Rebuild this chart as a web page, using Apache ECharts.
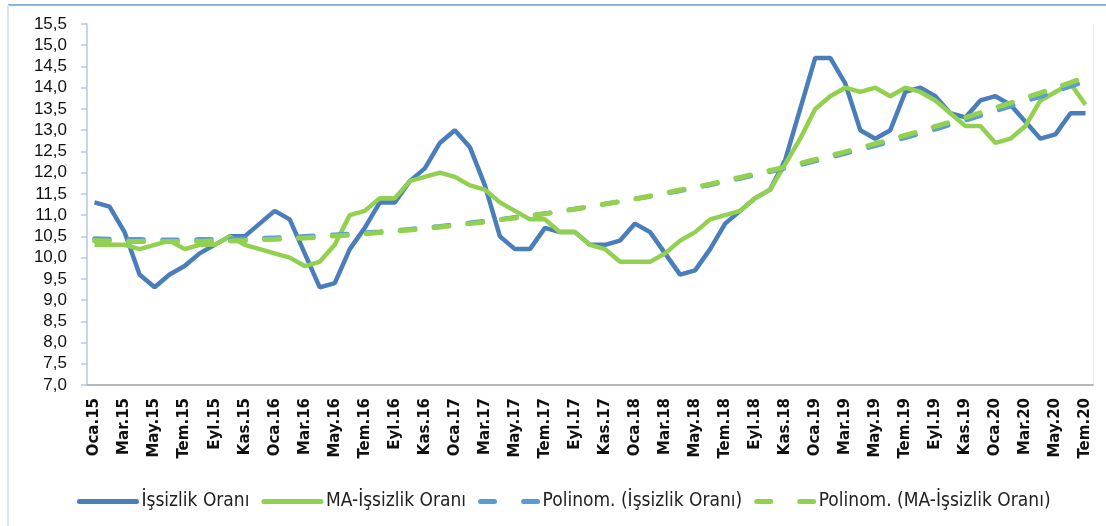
<!DOCTYPE html>
<html>
<head>
<meta charset="utf-8">
<script src="https://cdn.jsdelivr.net/npm/echarts@6/dist/echarts.min.js"></script>
<style>
  html, body { margin: 0; padding: 0; background: #fff; }
  #chart { width: 1106px; height: 526px; }
</style>
</head>
<body>
<div id="chart"></div>
<script>
// ay kısaltmaları ve yıllar (Oca.15 - Tem.20)
const months = ["Oca", "Şub", "Mar", "Nis", "May", "Haz", "Tem", "Ağu", "Eyl", "Eki", "Kas", "Ara"];
const years = ["15", "16", "17", "18", "19", "20"];
const lastMonthCount = 7;

const unemployment = [
  11.3, 11.2, 10.6, 9.6, 9.3, 9.6, 9.8, 10.1, 10.3, 10.5, 10.5, 10.8,
  11.1, 10.9, 10.1, 9.3, 9.4, 10.2, 10.7, 11.3, 11.3, 11.8, 12.1, 12.7,
  13.0, 12.6, 11.7, 10.5, 10.2, 10.2, 10.7, 10.6, 10.6, 10.3, 10.3, 10.4,
  10.8, 10.6, 10.1, 9.6, 9.7, 10.2, 10.8, 11.1, 11.4, 11.6, 12.3, 13.5,
  14.7, 14.7, 14.1, 13.0, 12.8, 13.0, 13.9, 14.0, 13.8, 13.4, 13.3, 13.7,
  13.8, 13.6, 13.2, 12.8, 12.9, 13.4, 13.4
];

const maUnemployment = [
  10.3, 10.3, 10.3, 10.2, 10.3, 10.4, 10.2, 10.3, 10.3, 10.5, 10.3, 10.2,
  10.1, 10.0, 9.8, 9.9, 10.3, 11.0, 11.1, 11.4, 11.4, 11.8, 11.9, 12.0,
  11.9, 11.7, 11.6, 11.3, 11.1, 10.9, 10.9, 10.6, 10.6, 10.3, 10.2, 9.9,
  9.9, 9.9, 10.1, 10.4, 10.6, 10.9, 11.0, 11.1, 11.4, 11.6, 12.2, 12.8,
  13.5, 13.8, 14.0, 13.9, 14.0, 13.8, 14.0, 13.9, 13.7, 13.4, 13.1, 13.1,
  12.7, 12.8, 13.1, 13.7, 13.9, 14.1, 13.6
];

// trend çizgileri
const trendUnemployment = [
  10.45, 10.44, 10.43, 10.43, 10.42, 10.42, 10.42, 10.43, 10.43, 10.44, 10.45, 10.46,
  10.47, 10.48, 10.50, 10.52, 10.54, 10.56, 10.59, 10.61, 10.64, 10.67, 10.71, 10.74,
  10.78, 10.82, 10.86, 10.90, 10.95, 10.99, 11.04, 11.09, 11.15, 11.20, 11.26, 11.32,
  11.38, 11.44, 11.51, 11.57, 11.64, 11.71, 11.79, 11.86, 11.94, 12.02, 12.10, 12.18,
  12.27, 12.36, 12.45, 12.54, 12.63, 12.73, 12.82, 12.92, 13.02, 13.13, 13.23, 13.34,
  13.45, 13.56, 13.68, 13.79, 13.91, 14.03, 14.15
];

const trendMa = [
  10.40, 10.39, 10.38, 10.38, 10.38, 10.38, 10.38, 10.38, 10.39, 10.39, 10.40, 10.42,
  10.43, 10.45, 10.46, 10.48, 10.51, 10.53, 10.56, 10.59, 10.62, 10.65, 10.68, 10.72,
  10.76, 10.80, 10.84, 10.89, 10.93, 10.98, 11.03, 11.09, 11.14, 11.20, 11.26, 11.32,
  11.38, 11.45, 11.52, 11.59, 11.66, 11.73, 11.81, 11.89, 11.97, 12.05, 12.13, 12.22,
  12.31, 12.40, 12.49, 12.58, 12.68, 12.78, 12.88, 12.98, 13.09, 13.19, 13.30, 13.41,
  13.53, 13.64, 13.76, 13.88, 14.00, 14.12, 14.25
];

const seriesNames = [
  "İşsizlik Oranı",
  "MA-İşsizlik Oranı",
  "Polinom. (İşsizlik Oranı)",
  "Polinom. (MA-İşsizlik Oranı)"
];

const categories = [];
years.forEach((y, yi) => {
  const n = yi === years.length - 1 ? lastMonthCount : 12;
  for (let m = 0; m < n; m++) categories.push(months[m] + "." + y);
});

const BLUE = "#4a7ebb";
const BLUE_LIGHT = "#5b9bd5";
const GREEN = "#92d050";
const DASH = [15, 19];
const narrow = "'Liberation Sans Narrow', 'DejaVu Sans Condensed', 'Liberation Sans', sans-serif";

const chart = echarts.init(document.getElementById("chart"));
chart.setOption({
  animation: false,
  backgroundColor: "#fff",
  graphic: [
    { type: "line", shape: { x1: 8, y1: 5, x2: 1106, y2: 5 }, style: { stroke: "#8db3e2", lineWidth: 2 } },
    { type: "line", shape: { x1: 8, y1: 5, x2: 8, y2: 526 }, style: { stroke: "#dbe5f4", lineWidth: 2 } },
    { type: "line", shape: { x1: 1093.5, y1: 24, x2: 1093.5, y2: 385 }, style: { stroke: "#e3ebf6", lineWidth: 1 } }
  ],
  grid: { left: 87, right: 13, top: 24, bottom: 141 },
  legend: {
    left: 77,
    top: 492,
    padding: 0,
    itemWidth: 57,
    itemHeight: 14,
    itemGap: 12,
    itemStyle: { opacity: 0 },
    textStyle: { fontFamily: narrow, fontSize: 19, color: "#222" },
    data: [
      { name: seriesNames[0], lineStyle: { color: BLUE, width: 5, cap: "round" } },
      { name: seriesNames[1], lineStyle: { color: GREEN, width: 5, cap: "round" } },
      { name: seriesNames[2], lineStyle: { color: BLUE_LIGHT, width: 5, type: [14, 29], cap: "round" } },
      { name: seriesNames[3], lineStyle: { color: GREEN, width: 5, type: [14, 29], cap: "round" } }
    ]
  },
  xAxis: {
    type: "category",
    data: categories,
    boundaryGap: true,
    axisLine: { lineStyle: { color: "#a0a0a0", width: 1.5 } },
    axisTick: { interval: 0, length: 7, lineStyle: { color: "#a0a0a0", width: 1.5 } },
    axisLabel: {
      interval: 1,
      rotate: 90,
      margin: 13,
      fontFamily: "'DejaVu Sans', sans-serif",
      fontWeight: "bold",
      fontSize: 15,
      color: "#111"
    },
    splitLine: { show: false }
  },
  yAxis: {
    type: "value",
    min: 7,
    max: 15.5,
    interval: 0.5,
    axisLine: { show: true, lineStyle: { color: "#b4c9e8", width: 1.5 } },
    axisTick: { show: true, length: 6, lineStyle: { color: "#b4c9e8", width: 1.5 } },
    axisLabel: {
      margin: 20,
      fontFamily: "'Liberation Sans', sans-serif",
      fontSize: 17,
      color: "#111",
      formatter: (v) => v.toFixed(1).replace(".", ",")
    },
    splitLine: { show: false }
  },
  series: [
    {
      name: seriesNames[0],
      type: "line",
      data: unemployment,
      showSymbol: false,
      symbol: "none",
      lineStyle: { color: BLUE, width: 4.5 },
      itemStyle: { color: BLUE }
    },
    {
      name: seriesNames[1],
      type: "line",
      data: maUnemployment,
      showSymbol: false,
      symbol: "none",
      lineStyle: { color: GREEN, width: 4.5 },
      itemStyle: { color: GREEN }
    },
    {
      name: seriesNames[2],
      type: "line",
      data: trendUnemployment,
      showSymbol: false,
      symbol: "none",
      lineStyle: { color: BLUE_LIGHT, width: 4.5, type: DASH, cap: "round" },
      itemStyle: { color: BLUE_LIGHT }
    },
    {
      name: seriesNames[3],
      type: "line",
      data: trendMa,
      showSymbol: false,
      symbol: "none",
      lineStyle: { color: GREEN, width: 5, type: DASH, cap: "round" },
      itemStyle: { color: GREEN }
    }
  ]
});
</script>
</body>
</html>
